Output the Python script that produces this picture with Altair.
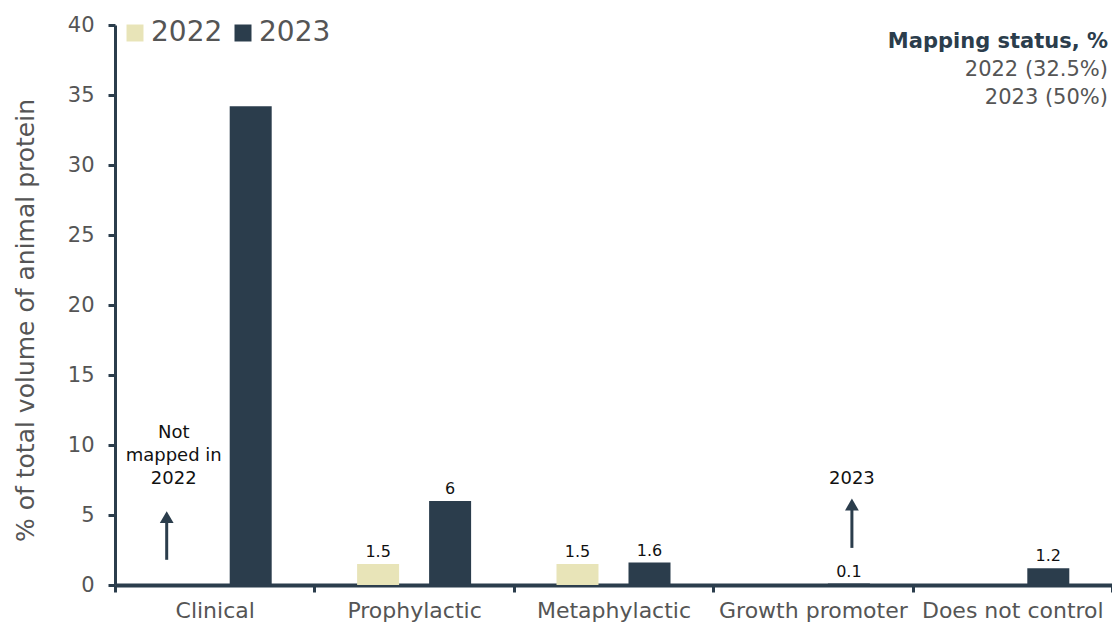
import altair as alt
import pandas as pd

categories = ["Clinical", "Prophylactic", "Metaphylactic", "Growth promoter", "Does not control"]
years = ["2022", "2023"]
values_2022 = [None, 1.5, 1.5, None, None]
values_2023 = [34.2, 6.0, 1.6, 0.1, 1.2]
labels_2022 = ["", "1.5", "1.5", "", ""]
labels_2023 = ["", "6", "1.6", "0.1", "1.2"]

# annotations
note_categories = ["Clinical", "Growth promoter"]
note_texts = [["Not", "mapped in", "2022"], ["2023"]]
note_y = [10.86, 7.55]
note_dx = [-41, 39]
arrow_y_start = [1.8, 2.65]
arrow_y_end = [4.85, 5.75]
arrow_dx = [-48, 39]

status_lines = ["Mapping status, %", "2022 (32.5%)", "2023 (50%)"]

DARK = "#2b3d4c"
LIGHT = "#e8e4b8"
GREY = "#555555"
FONT = "DejaVu Sans"

rows = []
for c, v1, v2, l1, l2 in zip(categories, values_2022, values_2023, labels_2022, labels_2023):
    rows.append({"category": c, "year": "2022", "value": v1, "label": l1})
    rows.append({"category": c, "year": "2023", "value": v2, "label": l2})
df = pd.DataFrame(rows)

W, H = 997, 560

x = alt.X("category:N", sort=categories,
          scale=alt.Scale(paddingInner=0, paddingOuter=0),
          axis=alt.Axis(title=None, labelAngle=0, tickBand="extent", tickSize=7, tickWidth=3,
                        tickColor=DARK, domainColor=DARK, domainWidth=4, labelFontSize=22,
                        labelColor=GREY, labelPadding=8, labelFont=FONT, grid=False,
                        labelLimit=300, labelOverlap=False))
xoff = alt.XOffset("year:N", sort=years,
                   scale=alt.Scale(domain=years, paddingInner=0.4167, paddingOuter=0.593))

bars = alt.Chart(df).transform_filter("datum.value != null").mark_bar().encode(
    x=x,
    xOffset=xoff,
    y=alt.Y("value:Q", scale=alt.Scale(domain=[0, 40]),
            axis=alt.Axis(values=list(range(0, 41, 5)), tickSize=7, tickWidth=3, tickColor=DARK,
                          domainColor=DARK, domainWidth=3, labelFontSize=21, labelColor=GREY,
                          labelFont=FONT, labelPadding=14, grid=False,
                          title="% of total volume of animal protein", titleFontSize=25,
                          titleColor=GREY, titleFont=FONT, titleFontWeight="normal",
                          titlePadding=29, titleY=295)),
    color=alt.Color("year:N", sort=years,
                    scale=alt.Scale(domain=years, range=[LIGHT, DARK]),
                    legend=alt.Legend(title=None, orient="none", legendX=6, legendY=-6,
                                      direction="horizontal", labelFontSize=28, labelColor=GREY,
                                      labelFont=FONT, symbolType="square", symbolSize=289,
                                      symbolStrokeWidth=0, symbolOpacity=1, columnPadding=6,
                                      labelOffset=2)),
)

labels = alt.Chart(df).transform_filter("datum.label != ''").transform_calculate(
    ypos="datum.value"
).mark_text(baseline="bottom", dy=-4, fontSize=16, color="#111111", font=FONT).encode(
    x=alt.X("category:N", sort=categories),
    xOffset=alt.XOffset("year:N", sort=years),
    y=alt.Y("ypos:Q"),
    text="label:N",
)

layers = [bars, labels]

for cat, txt, ny, ndx, ys, ye, adx in zip(note_categories, note_texts, note_y, note_dx,
                                          arrow_y_start, arrow_y_end, arrow_dx):
    ndf = pd.DataFrame({"category": [cat], "y": [ny], "text": [txt]})
    layers.append(alt.Chart(ndf).mark_text(fontSize=18, color="#111111", font=FONT,
                                           baseline="middle", dx=ndx, lineHeight=23).encode(
        x=alt.X("category:N", sort=categories), y="y:Q", text="text"))
    adf = pd.DataFrame({"category": [cat], "y1": [ys], "y2": [ye]})
    layers.append(alt.Chart(adf).mark_rule(color=DARK, strokeWidth=3, xOffset=adx).encode(
        x=alt.X("category:N", sort=categories), y="y1:Q", y2="y2:Q"))
    layers.append(alt.Chart(adf).mark_point(shape="triangle-up", filled=True, color=DARK,
                                            opacity=1, size=190, xOffset=adx).encode(
        x=alt.X("category:N", sort=categories), y="y2:Q"))

for i, line in enumerate(status_lines):
    layers.append(alt.Chart(pd.DataFrame({"t": [line]})).mark_text(
        align="right", baseline="middle", fontSize=21, font=FONT,
        fontWeight="bold" if i == 0 else "normal",
        color=DARK if i == 0 else GREY).encode(
        x=alt.value(W - 4), y=alt.value(17 + 28 * i), text="t:N"))

chart = alt.layer(*layers).properties(
    width=W, height=H,
    autosize=alt.AutoSizeParams(type="none"),
    padding={"left": 115, "top": 25, "right": 0, "bottom": 39},
    background="white",
).configure_view(stroke=None)

chart.save("out.html", embed_options={"renderer": "svg", "actions": False})
